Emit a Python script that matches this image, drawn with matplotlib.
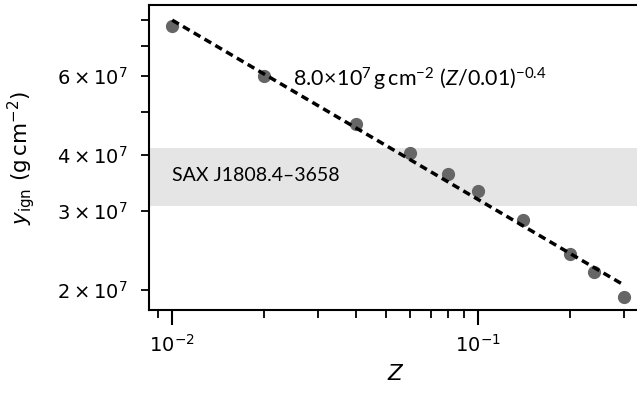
import matplotlib
matplotlib.use('Agg')
import matplotlib.pyplot as plt
import numpy as np

# metallicity and ignition column depth
Z = [0.01, 0.02, 0.04, 0.06, 0.08, 0.1, 0.14, 0.2, 0.24, 0.3]
y_ign = [7.75e7, 6.0e7, 4.7e7, 4.05e7, 3.63e7, 3.32e7, 2.86e7, 2.41e7, 2.19e7, 1.93e7]

# power-law fit drawn as dashed line
fit_norm = 8.0e7
fit_index = -0.4
fit_Z = [0.01, 0.3]

# observed range for SAX J1808.4-3658
band = (3.08e7, 4.14e7)

plt.rcParams['mathtext.fontset'] = 'custom'
plt.rcParams['mathtext.rm'] = 'Lato'
plt.rcParams['mathtext.it'] = 'Lato:italic'
plt.rcParams['mathtext.bf'] = 'Lato:bold'

fig = plt.figure(figsize=(6.37, 3.96), dpi=100)
ax = fig.add_axes([0.234, 0.217, 0.775, 0.770])

ax.axhspan(band[0], band[1], color='#e5e5e5', lw=0, zorder=0)
ax.plot(Z, y_ign, 'o', color='#666666', ms=8.5, zorder=2)
zz = np.array(fit_Z)
ax.plot(zz, fit_norm * (zz / 0.01) ** fit_index, color='k', ls=(0, (2.2, 1.4)), lw=2.5, zorder=3)

ax.set_xscale('log')
ax.set_yscale('log')
ax.set_xlim(0.0084, 0.346)
ax.set_ylim(1.804e7, 8.64e7)

ax.text(0.0249, 5.9e7, r'$8.0\!\times\!10^7\,{\rm g\,cm^{-2}}\ (Z/0.01)^{-0.4}$',
        fontsize=15.5, family='Lato', math_fontfamily='custom', va='center')
ax.text(0.01, 3.6e7, 'SAX J1808.4–3658', fontsize=14, family='Lato', va='center')

ax.set_xlabel(r'$Z$', fontsize=15.5, math_fontfamily='dejavusans', labelpad=6)
ax.set_ylabel(r'$y_{\rm ign}\ ({\rm g\,cm^{-2}})$', fontsize=15.5,
              math_fontfamily='dejavusans', labelpad=14)

ax.tick_params(which='major', length=11, width=1.5, labelsize=14, pad=6)
ax.tick_params(which='minor', length=5.5, width=1.3, labelsize=14)
ax.tick_params(axis='y', which='both', pad=10)
for s in ax.spines.values():
    s.set_linewidth(1.5)

fig.canvas.draw()
for lab in ax.get_xticklabels(which='both') + ax.get_yticklabels(which='both'):
    lab.set_math_fontfamily('dejavusans')

fig.savefig('out.png', dpi=100)
